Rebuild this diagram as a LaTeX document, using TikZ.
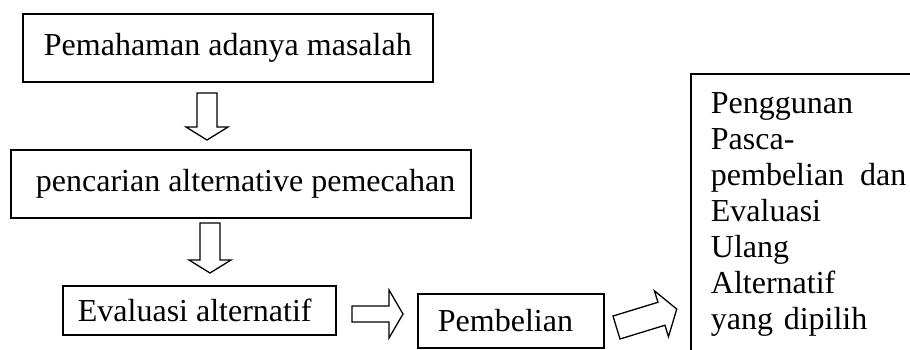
\documentclass[tikz,border=0pt]{standalone}
\usepackage{fontspec}
\setmainfont{Liberation Serif}
\begin{document}
\begin{tikzpicture}[x=1pt,y=-1pt,
  box/.style={draw, line width=1.8pt, rectangle, anchor=north west, inner ysep=0pt,
    font=\fontsize{32}{36}\selectfont},
  blockarrow/.style={draw, line width=1.3pt, fill=white, line join=miter}]
\useasboundingbox (0,0) rectangle (910,349);
\clip (0,0) rectangle (910,349);
% boxes
\node[box, minimum height=68pt, inner xsep=21pt] (b1) at (22,13)
  {\makebox[368pt][l]{Pemahaman adanya masalah}};
\node[box, minimum height=68pt, inner xsep=23pt] (b2) at (10,149)
  {\makebox[414pt][l]{\hspace{2pt}pencarian alternative pemecahan}};
\node[box, minimum height=49pt, inner xsep=15pt] (b3) at (62,285)
  {\makebox[243pt][l]{Evaluasi alternatif}};
\node[box, minimum height=54pt, inner xsep=20pt] (b4) at (417,293)
  {\makebox[146pt][l]{Pembelian}};
\node[box, inner xsep=20pt, inner ysep=19pt, text width=210pt, align=left] (b5) at (690,73)
  {Penggunan\\Pasca-\\pembelian\hspace{16pt}dan\\Evaluasi\\Ulang\\Alternatif\\yang dipilih};
% block arrows
\draw[blockarrow] (197,93) -- (217,93) -- (217,127) -- (228,127) -- (207,140) -- (186,127) -- (197,127) -- cycle;
\draw[blockarrow] (200,223) -- (220,223) -- (220,260) -- (231,260) -- (210,273) -- (189,260) -- (200,260) -- cycle;
\draw[blockarrow] (352,306) -- (389,306) -- (389,290) -- (403,314) -- (389,338) -- (389,322) -- (352,322) -- cycle;
\begin{scope}[shift={(616.5,327.5)}, rotate=17]
\draw[blockarrow] (0,-12) -- (47,-12) -- (47,-24) -- (63,0) -- (47,24) -- (47,12) -- (0,12) -- cycle;
\end{scope}
\end{tikzpicture}
\end{document}
